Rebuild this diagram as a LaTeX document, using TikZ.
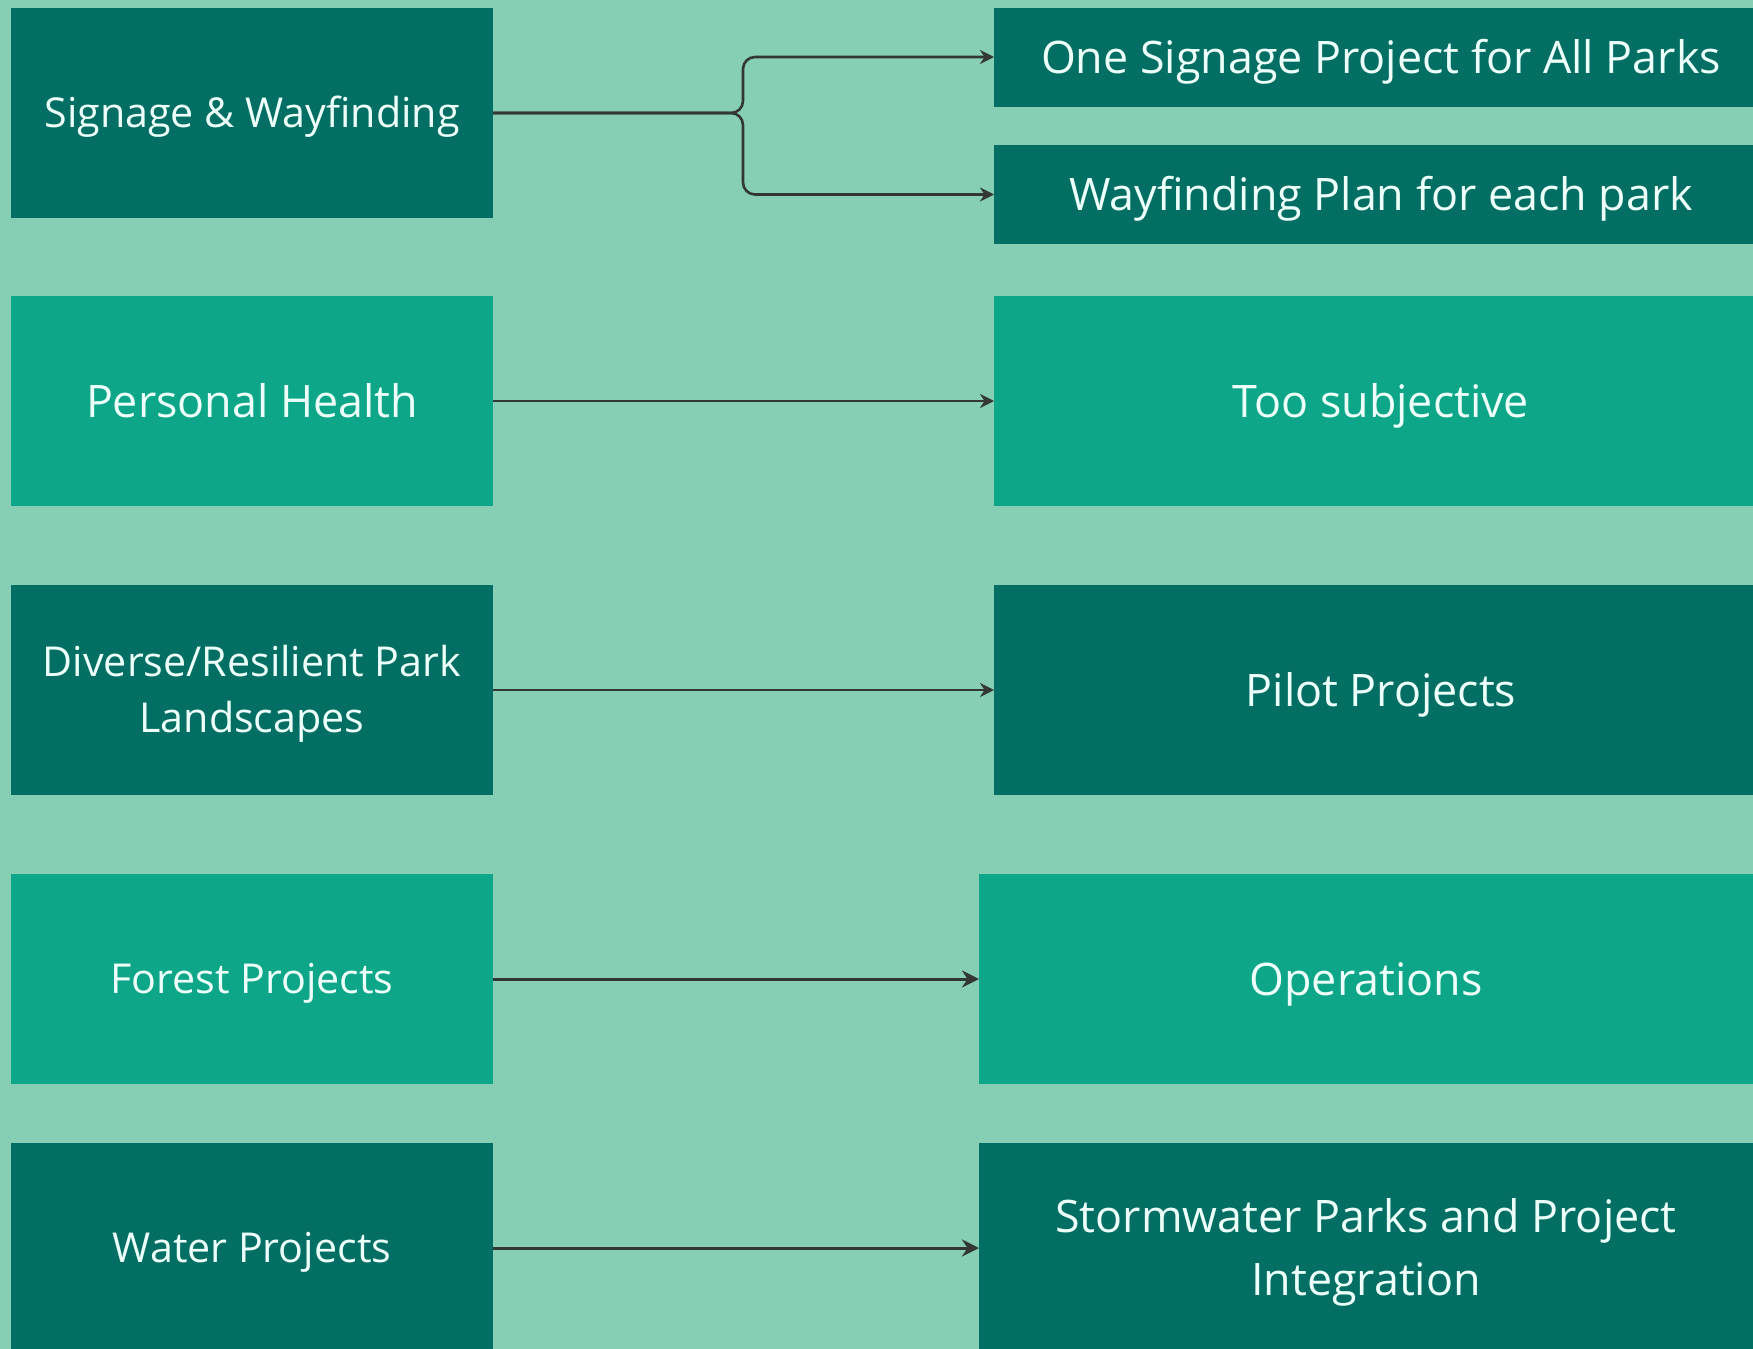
\documentclass[tikz,border=0pt]{standalone}
\usepackage{fontspec}
\setmainfont{Open Sans}
\usetikzlibrary{arrows.meta}
\definecolor{mint}{HTML}{86CFB4}
\definecolor{darkteal}{HTML}{036E63}
\definecolor{midteal}{HTML}{0EA688}
\definecolor{paletext}{HTML}{ECFFF9}
\definecolor{wire}{HTML}{333833}
\begin{document}
\begin{tikzpicture}[x=0.5pt, y=-0.5pt,
		box/.style={rectangle, inner sep=0pt, outer sep=0pt, text=paletext, align=center, text depth=0pt},
		smalltext/.style={font=\fontsize{20.6}{28}\selectfont, text height=14.7pt},
		bigtext/.style={font=\fontsize{22.4}{31.3}\selectfont, text height=16pt},
		leftbox/.style={box, minimum width=241pt, minimum height=105pt},
		rightbox/.style={box, bigtext, minimum width=387pt, minimum height=105pt},
		thinbox/.style={box, bigtext, minimum width=387pt, minimum height=49.5pt},
		link/.style={draw=wire, line width=1.3pt, -{Stealth[length=7pt, width=7pt]}},
		biglink/.style={link, line width=1.5pt, -{Stealth[length=8.5pt, width=8.5pt]}}]
		\useasboundingbox (0,0) rectangle (1753,1349);
		\fill[mint] (0,0) rectangle (1753,1349);
		\clip (0,0) rectangle (1753,1349);

		% left column
		\node[leftbox, smalltext, fill=darkteal] (l1) at (252,113) {Signage \& Wayfinding};
		\node[leftbox, bigtext, fill=midteal] (l2) at (252,401) {Personal Health};
		\node[leftbox, smalltext, text height=42.7pt, fill=darkteal] (l3) at (252,690) {Diverse/Resilient Park\\Landscapes};
		\node[leftbox, smalltext, fill=midteal] (l4) at (252,979) {Forest Projects};
		\node[leftbox, smalltext, fill=darkteal] (l5) at (252,1248) {Water Projects};

		% right column
		\node[thinbox, fill=darkteal] (r1a) at (1381,57) {One Signage Project for All Parks};
		\node[thinbox, fill=darkteal] (r1b) at (1381,194.5) {Wayfinding Plan for each park};
		\node[rightbox, fill=midteal] (r2) at (1381,401) {Too subjective};
		\node[rightbox, fill=darkteal] (r3) at (1381,690) {Pilot Projects};
		\node[rightbox, fill=midteal] (r4) at (1366,979) {Operations};
		\node[rightbox, text height=47.3pt, fill=darkteal] (r5) at (1366,1248) {Stormwater Parks and Project\\Integration};

		\coordinate (split) at (743,113);

		\draw[link, rounded corners=6pt] (l1.east) -- (split) |- (r1a.west);
		\draw[link, rounded corners=6pt] (l1.east) -- (split) |- (r1b.west);
		\draw[link] (l2) -- (r2);
		\draw[link] (l3) -- (r3);
		\draw[biglink] (l4) -- (r4);
		\draw[biglink] (l5) -- (r5);
	\end{tikzpicture}
\end{document}
